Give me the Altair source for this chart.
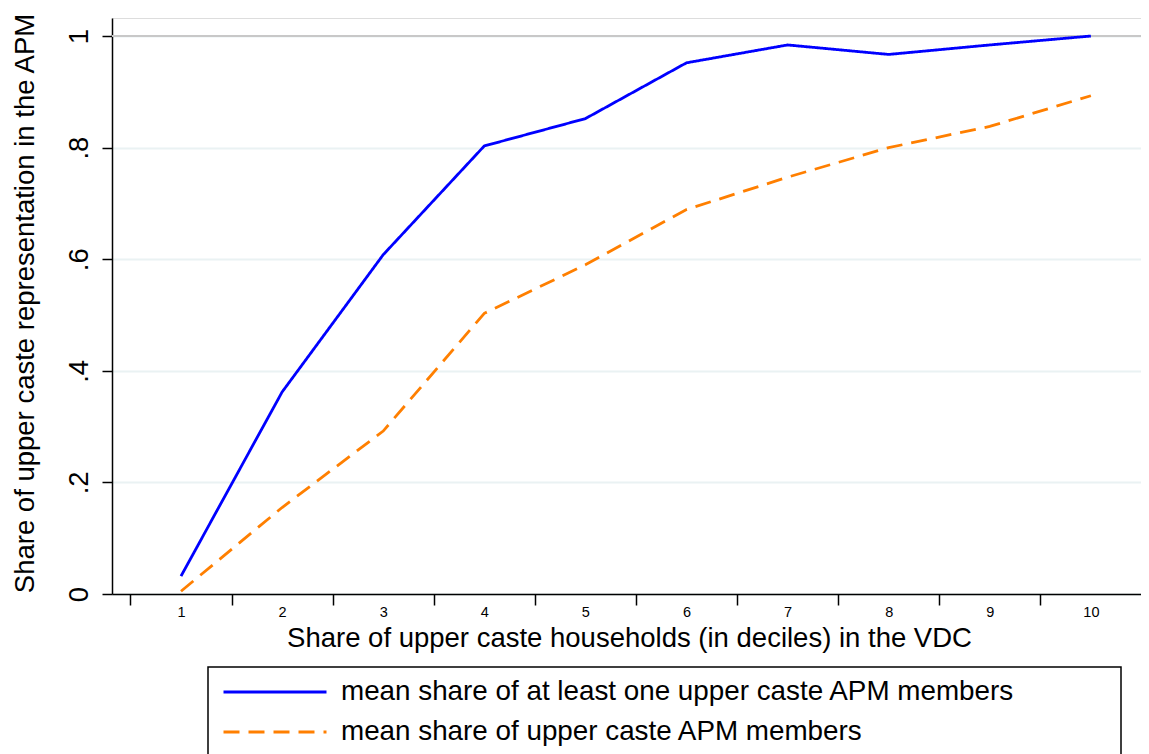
import altair as alt
import pandas as pd

deciles = [1, 2, 3, 4, 5, 6, 7, 8, 9, 10]
series_names = [
    "mean share of at least one upper caste APM members",
    "mean share of upper caste APM members",
]
at_least_one = [0.032, 0.362, 0.608, 0.803, 0.852, 0.952, 0.984, 0.967, 0.984, 1.0]
share_upper = [0.005, 0.155, 0.292, 0.503, 0.590, 0.689, 0.747, 0.800, 0.838, 0.893]
x_tick_values = [0.5, 1, 1.5, 2, 2.5, 3, 3.5, 4, 4.5, 5, 5.5, 6, 6.5, 7, 7.5, 8, 8.5, 9, 9.5, 10, 10.5]
y_tick_values = [0, 0.2, 0.4, 0.6, 0.8, 1]
reference_line = [1]
series_colors = ["#0000ff", "#ff7f00"]

rows = []
for name, vals in zip(series_names, [at_least_one, share_upper]):
    for d, v in zip(deciles, vals):
        rows.append({"decile": d, "share": v, "series": name})
df = pd.DataFrame(rows)

FONT = "Liberation Sans"

legend = alt.Legend(
    title=None, orient="none", legendX=110, legendY=654,
    symbolType="stroke", symbolSize=10609, symbolStrokeWidth=2.8,
    labelFontSize=27.8, labelFont=FONT, labelColor="black",
    labelOffset=13, rowPadding=0, clipHeight=40, labelLimit=2000, padding=0,
)

x_enc = alt.X(
    "decile:Q",
    scale=alt.Scale(domain=[0.3175, 10.4957], nice=False, zero=False),
    axis=alt.Axis(
        values=x_tick_values,
        title="Share of upper caste households (in deciles) in the VDC",
        titleFont=FONT, titleFontSize=27.5, titleFontWeight="normal", titleColor="black",
        titleBaseline="alphabetic", titleY=52, titleX=517,
        labelExpr="datum.value % 1 === 0 ? format(datum.value, 'd') : ''",
        labelFont=FONT, labelFontSize=14.5, labelColor="black",
        labelOverlap=False, labelFlush=False, labelBound=False, labelPadding=0,
        tickSize=11, tickWidth=1.5, tickColor="black",
        tickOpacity={"condition": {"test": "datum.value % 1 === 0", "value": 0}, "value": 1},
        domainColor="black", domainWidth=1.5, grid=False,
    ),
)
y_enc = alt.Y(
    "share:Q",
    scale=alt.Scale(domain=[0, 1.0323], nice=False, zero=False),
    axis=alt.Axis(
        values=y_tick_values,
        title="Share of upper caste representation in the APM",
        titleFont=FONT, titleFontSize=27.5, titleFontWeight="normal", titleColor="black",
        titleAngle=270, titleBaseline="alphabetic", titleAlign="center",
        titleX=-79, titleY=285,
        labelExpr="datum.value == 0 ? '0' : (datum.value >= 1 ? '1' : '.' + format(datum.value * 10, 'd'))",
        labelFont=FONT, labelFontSize=27.5, labelColor="black",
        labelAngle=270, labelAlign="center", labelBaseline="alphabetic",
        labelPadding=15, labelOverlap=False, labelFlush=False, labelBound=False,
        tickSize=10, tickWidth=1.5, tickColor="black",
        domainColor="black", domainWidth=1.5,
        grid=True, gridColor="#eaf2f3", gridWidth=2,
    ),
)

ref_rule = alt.Chart(pd.DataFrame({"level": reference_line})).mark_rule(
    color="#c8c8c8", strokeWidth=2
).encode(y=alt.Y("level:Q", scale=alt.Scale(domain=[0, 1.0323], nice=False, zero=False)))

lines = alt.Chart(df).mark_line(strokeWidth=2.8).encode(
    x=x_enc,
    y=y_enc,
    color=alt.Color("series:N", scale=alt.Scale(domain=series_names, range=series_colors), legend=legend),
    strokeDash=alt.StrokeDash("series:N", scale=alt.Scale(domain=series_names, range=[[1, 0], [16, 9]]), legend=legend),
    order=alt.Order("decile:Q"),
)

frame = alt.Chart(alt.Data(values=[{"frame": 1}])).mark_rect(
    filled=False, stroke="black", strokeWidth=1.5
).encode(
    x=alt.value(96), x2=alt.value(1009), y=alt.value(649), y2=alt.value(800)
)

chart = alt.layer(ref_rule, lines, frame).properties(
    width=1029, height=576,
    padding={"left": 104, "top": 10, "right": 0, "bottom": 160},
    autosize=alt.AutoSizeParams(type="none"),
).configure_view(stroke=None).configure(background="white")

chart.save("out.html", embed_options={"renderer": "svg", "actions": False})
